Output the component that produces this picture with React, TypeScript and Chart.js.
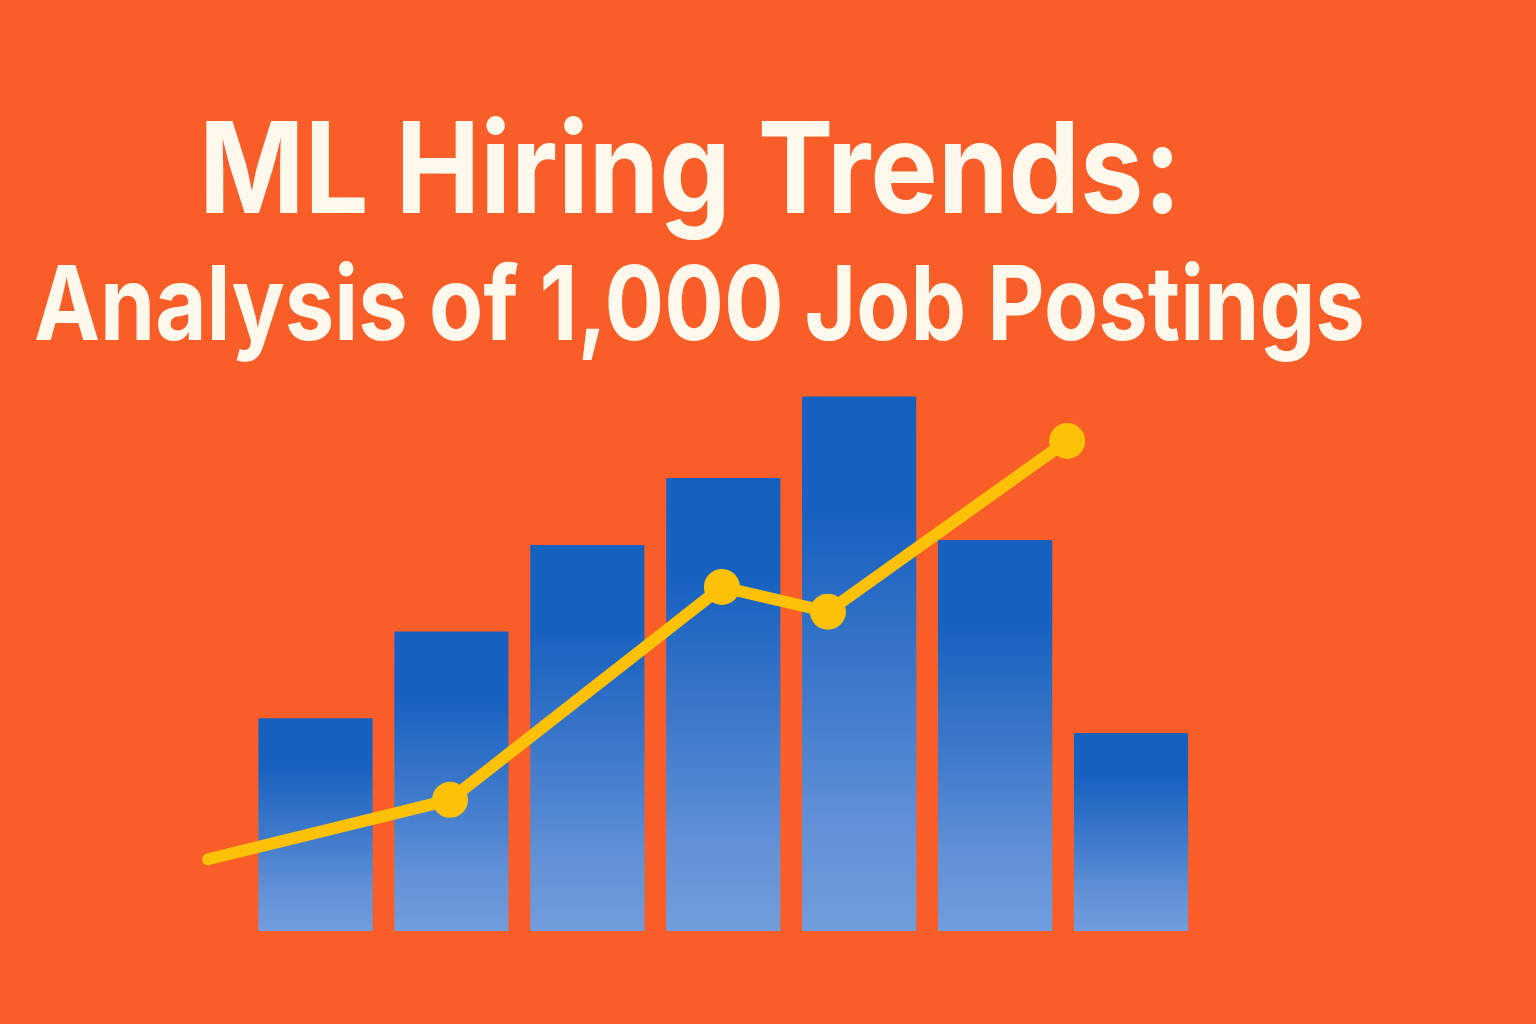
import React, { useEffect, useLayoutEffect, useRef } from "react";
import { Chart, registerables } from "chart.js";

Chart.register(...registerables);

// postings per period (sums to 1,000)
const periods = ["2018", "2019", "2020", "2021", "2022", "2023", "2024"];
const postings = [86, 121, 156, 183, 216, 158, 80];

// trend line, x in bar-slot units
const trendX = [-0.79, 0.99, 2.99, 3.77, 5.53];
const trendY = [29, 53, 139, 129, 198];

const titleLine1 = "ML Hiring Trends:";
const titleLine2 = "Analysis of 1,000 Job Postings";

const ORANGE = "#F95E28";
const YELLOW = "#FDC107";
const CREAM = "#FFF8EC";
const TITLE_FONT = "Inter, 'Noto Sans', sans-serif";

// squeeze a title line so its ink spans [left, right]
const fitLine = (el: HTMLDivElement | null, left: number, right: number) => {
    if (!el) return;
    const cs = getComputedStyle(el);
    const ctx = document.createElement("canvas").getContext("2d");
    if (!ctx) return;
    ctx.font = `${cs.fontWeight} ${cs.fontSize} ${cs.fontFamily}`;
    (ctx as any).letterSpacing = cs.letterSpacing === "normal" ? "0px" : cs.letterSpacing;
    const m = ctx.measureText(el.textContent || "");
    const ink = m.actualBoundingBoxLeft + m.actualBoundingBoxRight;
    const s = (right - left) / ink;
    el.style.transformOrigin = "0 0";
    el.style.transform = `scaleX(${s})`;
    el.style.left = `${left + s * m.actualBoundingBoxLeft}px`;
};

const App: React.FC = () => {
    const canvasRef = useRef<HTMLCanvasElement | null>(null);
    const chartRef = useRef<Chart | null>(null);
    const line1Ref = useRef<HTMLDivElement | null>(null);
    const line2Ref = useRef<HTMLDivElement | null>(null);

    useLayoutEffect(() => {
        fitLine(line1Ref.current, 206, 1172);
        fitLine(line2Ref.current, 36, 1362);
    }, []);

    useEffect(() => {
        if (!canvasRef.current) return;
        if (chartRef.current) chartRef.current.destroy();

        const barFill = (ctx: any) => {
            const chart = ctx.chart;
            if (!chart.chartArea || ctx.type !== "data") return "#1760C0";
            const y = chart.scales.y;
            const top = y.getPixelForValue(ctx.raw);
            const bottom = y.getPixelForValue(0);
            const g = chart.ctx.createLinearGradient(0, top, 0, bottom);
            g.addColorStop(0, "#1660BF");
            g.addColorStop(0.22, "#1761C0");
            g.addColorStop(0.55, "#3F7ACB");
            g.addColorStop(0.8, "#6190D6");
            g.addColorStop(1, "#729DDD");
            return g;
        };

        chartRef.current = new Chart(canvasRef.current, {
            type: "bar",
            data: {
                labels: periods,
                datasets: [
                    {
                        type: "line",
                        label: "Trend",
                        data: trendX.map((x, i) => ({ x, y: trendY[i] })),
                        xAxisID: "x2",
                        borderColor: YELLOW,
                        backgroundColor: YELLOW,
                        borderWidth: 12,
                        borderCapStyle: "round",
                        borderJoinStyle: "round",
                        pointRadius: (c: any) => (c.dataIndex === 0 ? 0 : 18),
                        pointBorderWidth: 0,
                        tension: 0,
                        clip: false,
                        order: 0,
                    } as any,
                    {
                        type: "bar",
                        label: "Job postings",
                        data: postings,
                        backgroundColor: barFill,
                        grouped: false,
                        categoryPercentage: 1,
                        barPercentage: 0.84,
                        order: 1,
                    },
                ],
            },
            options: {
                animation: false,
                responsive: true,
                maintainAspectRatio: false,
                layout: {
                    autoPadding: false,
                    padding: { left: 247.5, right: 337, top: 386.5, bottom: 93 },
                },
                scales: {
                    x: { type: "category", display: false, grid: { display: false } },
                    x2: { type: "linear", display: false, offset: false, min: -0.5, max: 6.5 },
                    y: { display: false, min: 0, max: 220 },
                },
                plugins: {
                    legend: { display: false },
                    tooltip: { enabled: false },
                },
            },
        });

        return () => {
            if (chartRef.current) {
                chartRef.current.destroy();
                chartRef.current = null;
            }
        };
    }, []);

    const titleStyle: React.CSSProperties = {
        position: "absolute",
        margin: 0,
        whiteSpace: "nowrap",
        color: CREAM,
        fontFamily: TITLE_FONT,
        fontWeight: 650,
        lineHeight: 1,
    };

    return (
        <div style={{ position: "fixed", left: 0, top: 0, width: 1536, height: 1024, background: ORANGE, overflow: "hidden" }}>
            <canvas ref={canvasRef} style={{ position: "absolute", left: 0, top: 0 }}></canvas>
            <div style={{ position: "absolute", left: 0, top: 0, width: 1536, height: 1024 }}>
                <div ref={line1Ref} style={{ ...titleStyle, left: 200, top: 104, fontSize: 126 }}>{titleLine1}</div>
                <div ref={line2Ref} style={{ ...titleStyle, left: 30, top: 251, fontSize: 103 }}>{titleLine2}</div>
            </div>
        </div>
    );
};

export default App;
